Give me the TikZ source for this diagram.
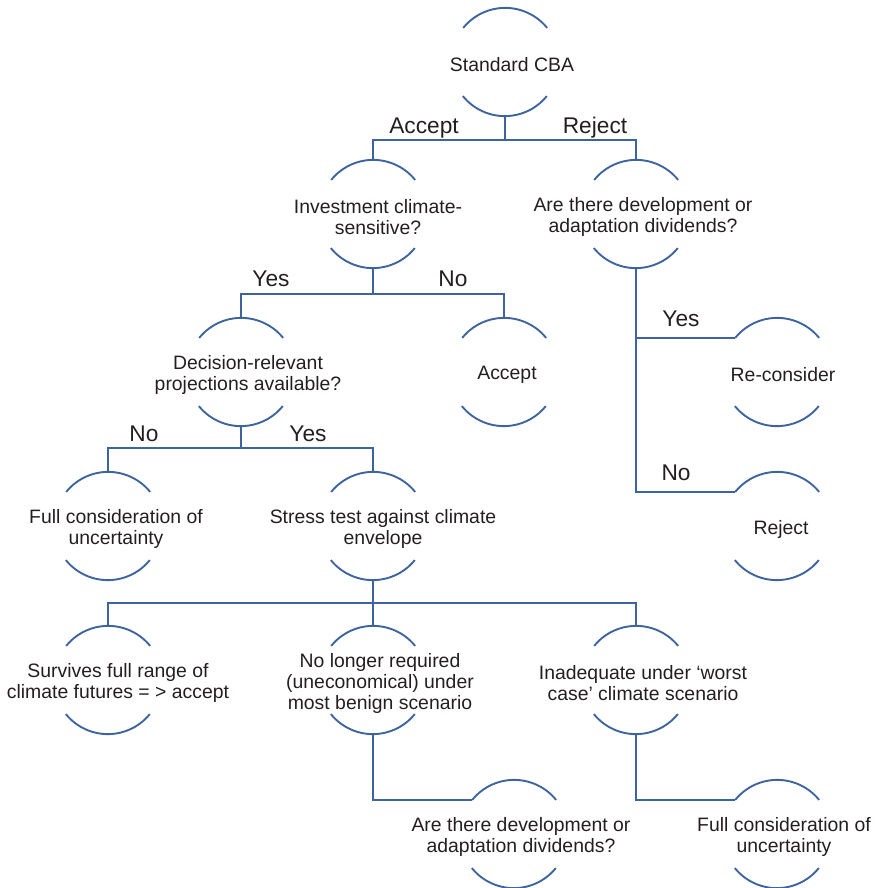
\documentclass[tikz,border=0pt]{standalone}
\usepackage{fontspec}
\setmainfont{Liberation Sans}
\definecolor{lineblue}{RGB}{62,100,160}
\definecolor{txtgray}{RGB}{35,31,32}
\begin{document}
\begin{tikzpicture}[x=1pt,y=1pt,
  ring/.style={circle,minimum size=108pt,inner sep=0pt,draw=none},
  txt/.style={align=center,inner sep=0pt,text=txtgray,yshift=-3pt,font=\fontsize{19.4}{21}\selectfont},
  lab/.style={inner sep=0pt,text=txtgray,font=\fontsize{22.7}{24}\selectfont},
  conn/.style={draw=lineblue,line width=1.9pt},
]
\useasboundingbox (0,0) rectangle (876,-888);
% rings
\node[ring] (std) at (505,-62) {};
\node[ring] (inv) at (373,-214) {};
\node[ring] (dev) at (636,-214) {};
\node[ring] (dec) at (241,-372) {};
\node[ring] (acc) at (504,-372) {};
\node[ring] (recon) at (777,-372) {};
\node[ring] (rejn) at (777,-526) {};
\node[ring] (full) at (108,-526) {};
\node[ring] (stress) at (373,-526) {};
\node[ring] (surv) at (108,-680) {};
\node[ring] (nolong) at (373,-680) {};
\node[ring] (inad) at (636,-680) {};
\node[ring] (dev2) at (514,-834) {};
\node[ring] (full2) at (777,-834) {};
\foreach \n in {std,inv,dev,dec,acc,recon,rejn,full,stress,surv,nolong,inad,dev2,full2}{
  \draw[conn] (\n.39) arc[start angle=39,end angle=141,radius=54]
              (\n.219) arc[start angle=219,end angle=321,radius=54];
}
% texts
\node[txt] (std-t) at ([xshift=7pt]std.center) {Standard CBA};
\node[txt] (inv-t) at ([xshift=5pt]inv.center) {Investment climate-\\sensitive?};
\node[txt] (dev-t) at ([xshift=7pt]dev.center) {Are there development or\\adaptation dividends?};
\node[txt] (dec-t) at ([xshift=7pt]dec.center) {Decision-relevant\\projections available?};
\node[txt] (acc-t) at ([xshift=3pt]acc.center) {Accept};
\node[txt] (recon-t) at ([xshift=6pt]recon.center) {Re-consider};
\node[txt] (rejn-t) at ([xshift=4pt]rejn.center) {Reject};
\node[txt] (full-t) at ([xshift=8pt]full.center) {Full consideration of\\uncertainty};
\node[txt] (stress-t) at ([xshift=10pt]stress.center) {Stress test against climate\\envelope};
\node[txt] (surv-t) at ([xshift=10pt]surv.center) {Survives full range of\\climate futures = > accept};
\node[txt] (nolong-t) at ([xshift=7pt]nolong.center) {No longer required\\(uneconomical) under\\most benign scenario};
\node[txt] (inad-t) at ([xshift=7pt]inad.center) {Inadequate under ‘worst\\case’ climate scenario};
\node[txt] (dev2-t) at ([xshift=7pt]dev2.center) {Are there development or\\adaptation dividends?};
\node[txt] (full2-t) at ([xshift=7pt]full2.center) {Full consideration of\\uncertainty};
% buses
\coordinate (b1) at (0,-140);
\coordinate (b2) at (0,-294);
\coordinate (b3) at (0,-448);
\coordinate (b4) at (0,-603);
\draw[conn] (std.south) -- (std.south |- b1) -| (inv.north);
\draw[conn] (std.south |- b1) -| (dev.north);
\draw[conn] (inv.south) -- (inv.south |- b2) -| (dec.north);
\draw[conn] (inv.south |- b2) -| (acc.north);
\draw[conn] (dev.south) |- (recon.141);
\draw[conn] (dev.south) |- (rejn.141);
\draw[conn] (dec.south) -- (dec.south |- b3) -| (full.north);
\draw[conn] (dec.south |- b3) -| (stress.north);
\draw[conn] (stress.south) -- (stress.south |- b4) -| (surv.north);
\draw[conn] (stress.south |- b4) -| (inad.north);
\draw[conn] (stress.south |- b4) -- (nolong.north);
\draw[conn] (nolong.south) |- (dev2.141);
\draw[conn] (inad.south) |- (full2.141);
% labels
\node[lab] (l1) at (424,-128) {Accept};
\node[lab] (l2) at (595,-128) {Reject};
\node[lab] (l3) at (271,-279) {Yes};
\node[lab] (l4) at (453,-279) {No};
\node[lab] (l5) at (681,-319) {Yes};
\node[lab] (l6) at (676,-473) {No};
\node[lab] (l7) at (144,-434) {No};
\node[lab] (l8) at (308,-434) {Yes};
\end{tikzpicture}
\end{document}
